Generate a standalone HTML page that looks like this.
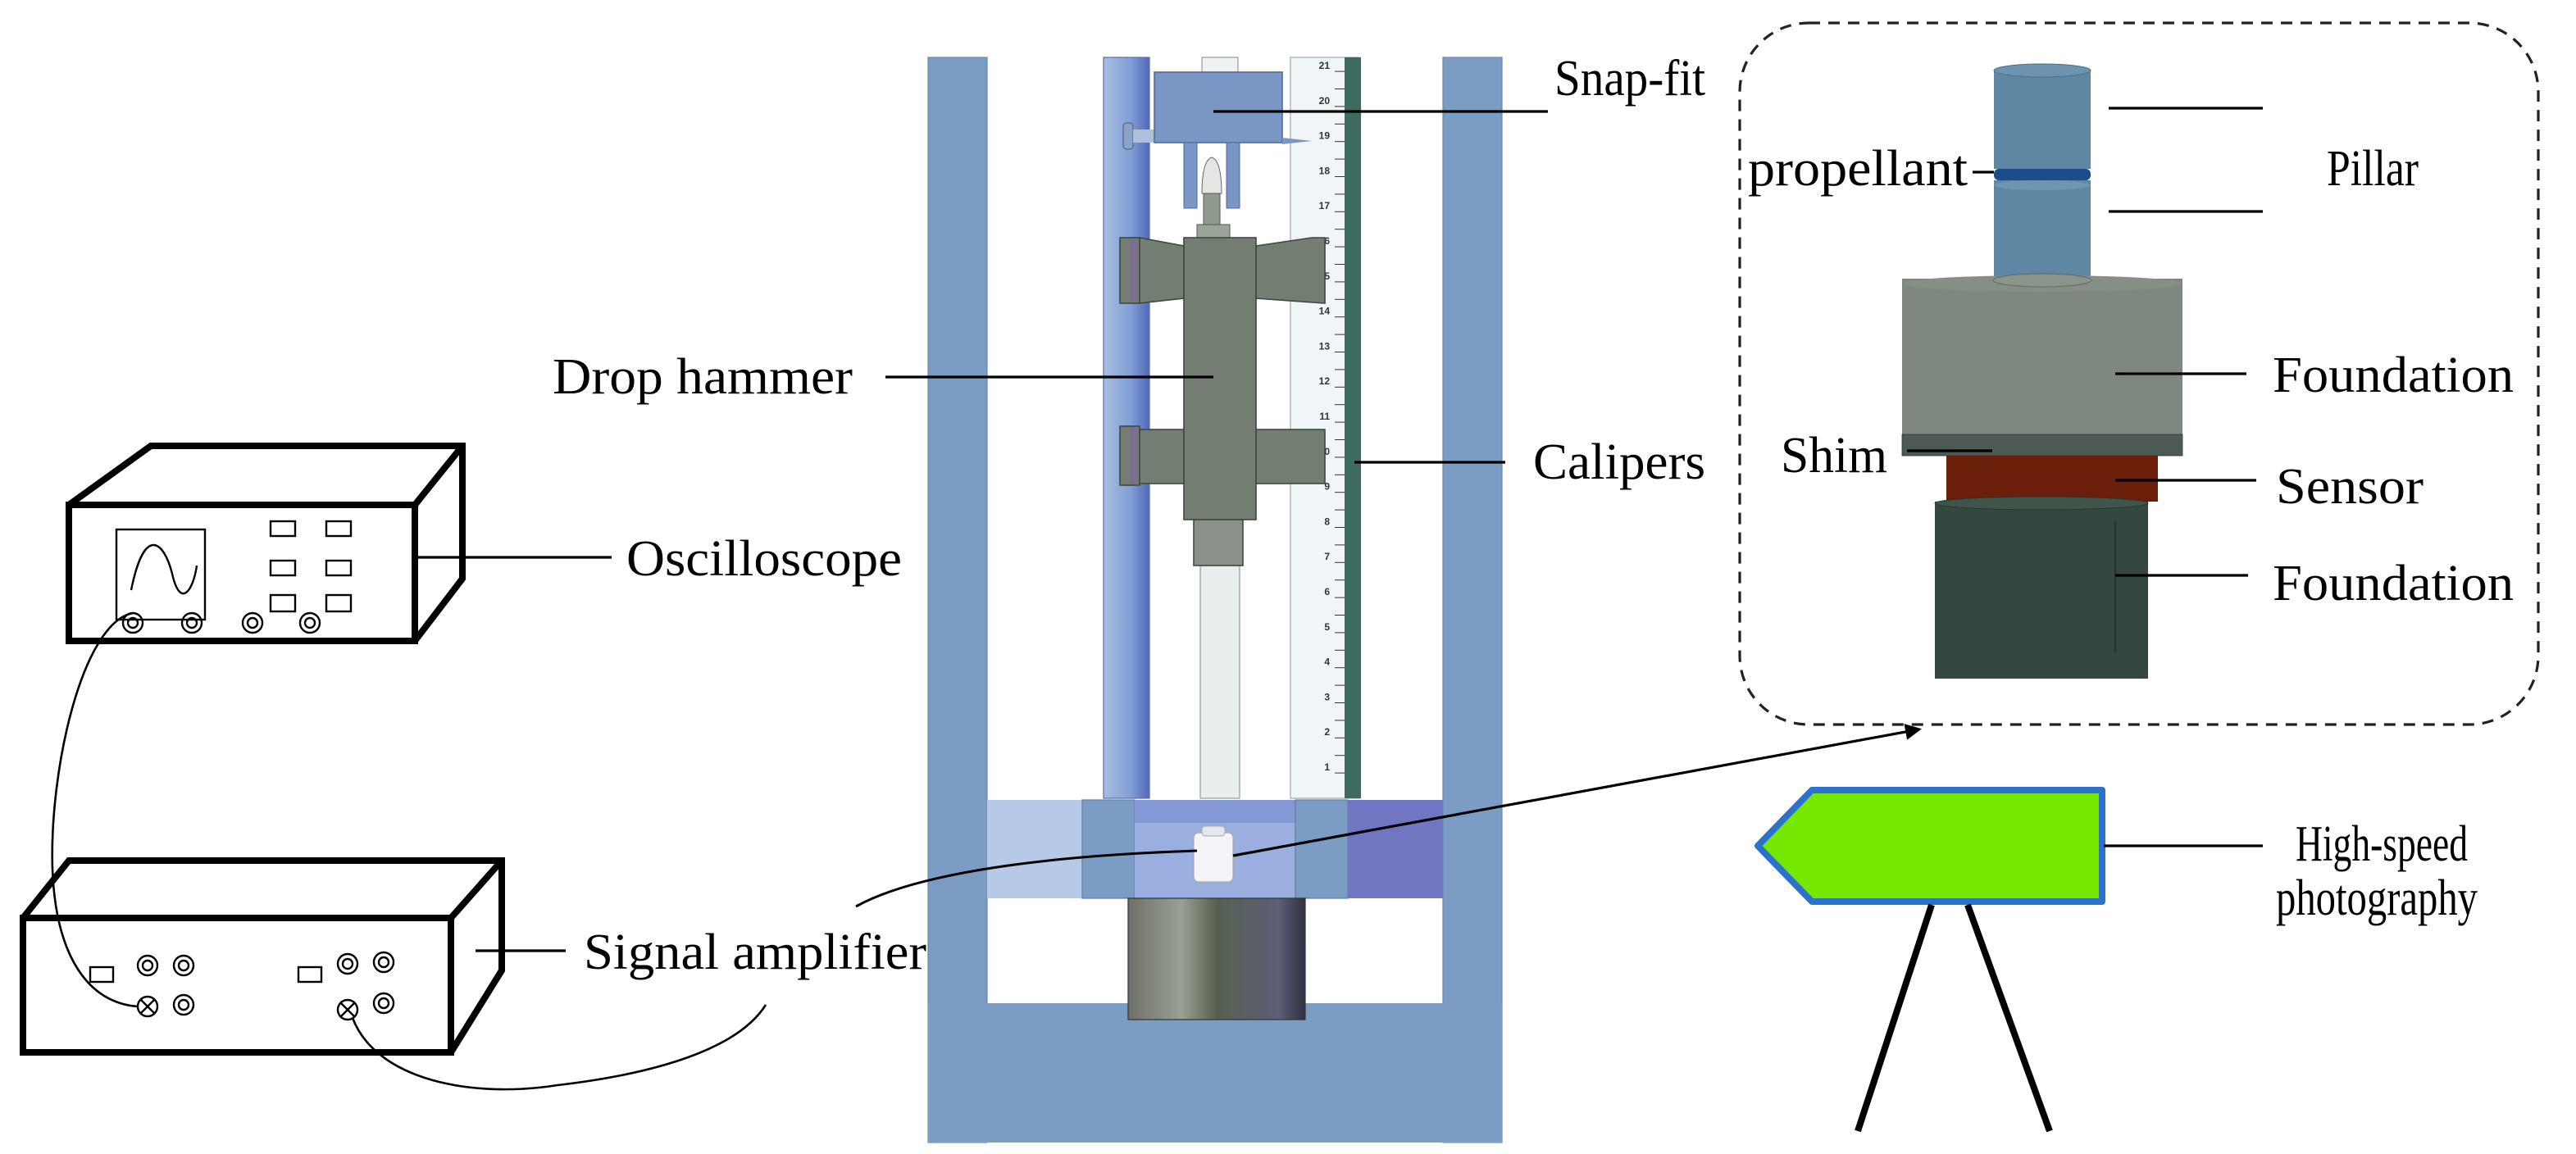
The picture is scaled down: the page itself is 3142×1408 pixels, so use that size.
<!DOCTYPE html>
<html><head><meta charset="utf-8"><style>html,body{margin:0;padding:0;background:#fff}svg{display:block}</style></head>
<body>
<svg width="3142" height="1408" viewBox="0 0 1571 704" xmlns="http://www.w3.org/2000/svg" font-family="Liberation Serif, serif">
<defs>
<linearGradient id="rod" x1="0" x2="1"><stop offset="0" stop-color="#a9bde0"/><stop offset="0.6" stop-color="#7f9fd6"/><stop offset="1" stop-color="#5466b8"/></linearGradient>
<linearGradient id="anv" x1="0" x2="1"><stop offset="0" stop-color="#6d7068"/><stop offset="0.3" stop-color="#9aa094"/><stop offset="0.5" stop-color="#56604f"/><stop offset="0.85" stop-color="#5d5e78"/><stop offset="1" stop-color="#2e3040"/></linearGradient>
<pattern id="tk" x="0" y="0.5" width="20" height="10.7" patternUnits="userSpaceOnUse"><line x1="0" y1="0" x2="20" y2="0" stroke="#333" stroke-width="1"/></pattern>
<marker id="ah" markerWidth="10" markerHeight="10" refX="8" refY="5" orient="auto" markerUnits="userSpaceOnUse"><path d="M0,0 L10,5 L0,10 Z" fill="#000"/></marker>
</defs>

<rect x="566" y="35" width="36" height="662" fill="#7b9cc3" stroke="#6a88ad" stroke-width="0.6"/>
<rect x="880" y="35" width="36" height="662" fill="#7b9cc3" stroke="#6a88ad" stroke-width="0.6"/>
<rect x="566" y="612" width="350" height="85" fill="#7b9cc3"/>

<rect x="673" y="35" width="28" height="452" fill="url(#rod)" stroke="#5a6fa8" stroke-width="0.6"/>
<rect x="787" y="35" width="42" height="452" fill="#f2f5f7" stroke="#9aa" stroke-width="0.6"/>
<rect x="820" y="35" width="10" height="452" fill="#3e6a5f"/>
<rect x="814" y="38" width="6" height="440" fill="url(#tk)"/>
<g font-family="Liberation Sans, sans-serif" font-size="6" font-weight="bold" fill="#333" text-anchor="end">
<text x="811" y="470">1</text><text x="811" y="448.6">2</text><text x="811" y="427.2">3</text><text x="811" y="405.8">4</text><text x="811" y="384.4">5</text><text x="811" y="363">6</text><text x="811" y="341.6">7</text><text x="811" y="320.2">8</text><text x="811" y="298.8">9</text><text x="811" y="277.4">10</text><text x="811" y="256">11</text><text x="811" y="234.6">12</text><text x="811" y="213.2">13</text><text x="811" y="191.8">14</text><text x="811" y="170.4">15</text><text x="811" y="149">16</text><text x="811" y="127.6">17</text><text x="811" y="106.2">18</text><text x="811" y="84.8">19</text><text x="811" y="63.4">20</text><text x="811" y="42">21</text>
</g>

<rect x="733" y="35" width="22" height="10" fill="#eef2f2" stroke="#999" stroke-width="0.6"/>
<rect x="732" y="345" width="24" height="142" fill="#e9eeee" stroke="#999" stroke-width="0.6"/>
<rect x="685" y="75" width="6" height="16" rx="2" fill="#8aa3c8" stroke="#556" stroke-width="0.5"/>
<rect x="691" y="79" width="14" height="8" fill="#aebfd8"/>
<rect x="704" y="44" width="78" height="43" fill="#7996c4" stroke="#4f6b9a" stroke-width="0.8"/>
<path d="M782,84 L800,86 L782,88 Z" fill="#7996c4"/>
<rect x="722" y="87" width="8" height="40" fill="#7996c4" stroke="#4f6b9a" stroke-width="0.5"/>
<rect x="748" y="87" width="8" height="40" fill="#7996c4" stroke="#4f6b9a" stroke-width="0.5"/>
<path d="M733,118 Q733,98 739,96 Q745,98 745,118 Z" fill="#e3e6e2" stroke="#666" stroke-width="0.5"/>
<rect x="734" y="118" width="10" height="20" fill="#8f9a8f" stroke="#555" stroke-width="0.5"/>
<rect x="730" y="137" width="20" height="8" fill="#9aa59a" stroke="#555" stroke-width="0.5"/>
<g fill="#737d72" stroke="#3d4a3d" stroke-width="0.8">
<rect x="683" y="145" width="12" height="40"/>
<path d="M695,145 L722,150 L722,182 L695,185 Z"/>
<path d="M766,150 L800,145 L808,145 L808,185 L766,182 Z"/>
<rect x="683" y="260" width="12" height="36"/>
<rect x="695" y="262" width="27" height="33"/>
<rect x="766" y="262" width="42" height="33"/>
<rect x="722" y="145" width="44" height="172"/>
<rect x="728" y="317" width="30" height="28" fill="#8a9189"/>
</g>
<rect x="689" y="146" width="5" height="38" fill="#7a6f8e"/>
<rect x="689" y="261" width="5" height="34" fill="#7a6f8e"/>

<rect x="602" y="488" width="58" height="60" fill="#b6c9e6"/>
<rect x="660" y="488" width="32" height="60" fill="#7b9cc3" stroke="#5f7ea6" stroke-width="0.6"/>
<rect x="692" y="488" width="98" height="60" fill="#9aaee0"/>
<rect x="692" y="488" width="98" height="14" fill="#8598d6"/>
<rect x="790" y="488" width="32" height="60" fill="#7b9cc3" stroke="#5f7ea6" stroke-width="0.6"/>
<rect x="822" y="488" width="58" height="60" fill="#7076c2"/>
<rect x="728" y="508" width="24" height="30" rx="3" fill="#f4f4f8" stroke="#aaa" stroke-width="0.6"/>
<rect x="733" y="504" width="14" height="6" rx="2" fill="#e6e6ee" stroke="#aaa" stroke-width="0.5"/>
<rect x="688" y="548" width="108" height="74" fill="url(#anv)" stroke="#333" stroke-width="0.6"/>

<rect x="1061" y="14" width="487" height="428" rx="42" fill="none" stroke="#222" stroke-width="1.6" stroke-dasharray="7,5"/>
<rect x="1216" y="43" width="59" height="60" fill="#5f86a3"/>
<ellipse cx="1245.5" cy="43" rx="29.5" ry="4" fill="#6c93b0" stroke="#4d6f88" stroke-width="0.5"/>
<rect x="1216" y="103" width="59" height="7" rx="3" fill="#1d4c8c"/>
<rect x="1216" y="110" width="59" height="60" fill="#5f86a3"/>
<ellipse cx="1245.5" cy="113" rx="29.5" ry="3" fill="#6f95b1"/>
<rect x="1160" y="170" width="171" height="95" fill="#7f887f"/>
<ellipse cx="1245.5" cy="173" rx="85" ry="5" fill="#868f86"/>
<ellipse cx="1245.5" cy="171" rx="30" ry="4" fill="#8b948b" stroke="#666" stroke-width="0.5"/>
<rect x="1160" y="265" width="171" height="13" fill="#4b5a52" stroke="#333" stroke-width="0.4"/>
<rect x="1187" y="278" width="129" height="28" fill="#6b1e0a"/>
<rect x="1180" y="306" width="130" height="108" fill="#354840"/>
<ellipse cx="1245" cy="307" rx="65" ry="4" fill="#3f544a" stroke="#263530" stroke-width="0.5"/>
<line x1="1290" y1="318" x2="1290" y2="398" stroke="#263530" stroke-width="1.2"/>

<path d="M1105,482 L1282,482 L1282,550 L1105,550 L1072,516 Z" fill="#74e800" stroke="#2a72cc" stroke-width="4" stroke-linejoin="round"/>
<line x1="1178" y1="552" x2="1133" y2="690" stroke="#000" stroke-width="4"/>
<line x1="1200" y1="552" x2="1250" y2="690" stroke="#000" stroke-width="4"/>

<g fill="none" stroke="#000" stroke-width="4" stroke-linejoin="miter">
<rect x="42" y="308" width="211" height="83"/>
<path d="M42,308 L92,272 L282,272 L282,353 L253,391 M253,308 L282,272"/>
</g>
<rect x="71" y="323" width="54" height="55" fill="none" stroke="#000" stroke-width="1.2"/>
<path d="M80,360 C88,320 100,330 105,350 C110,372 118,360 120,345" fill="none" stroke="#000" stroke-width="1.2"/>
<g fill="none" stroke="#000" stroke-width="1.2">
<rect x="165" y="318" width="15" height="9"/><rect x="199" y="318" width="15" height="9"/>
<rect x="165" y="342" width="15" height="9"/><rect x="199" y="342" width="15" height="9"/>
<rect x="165" y="363" width="15" height="10"/><rect x="199" y="363" width="15" height="10"/>
<circle cx="81" cy="380" r="6"/><circle cx="81" cy="380" r="3"/>
<circle cx="117" cy="380" r="6"/><circle cx="117" cy="380" r="3"/>
<circle cx="154" cy="380" r="6"/><circle cx="154" cy="380" r="3"/>
<circle cx="189" cy="380" r="6"/><circle cx="189" cy="380" r="3"/>
</g>
<g fill="none" stroke="#000" stroke-width="4">
<rect x="14" y="560" width="261" height="82"/>
<path d="M14,560 L42,525 L306,525 L306,592 L275,642 M275,560 L306,525"/>
</g>
<g fill="none" stroke="#000" stroke-width="1.2">
<rect x="55" y="590" width="14" height="9"/><rect x="182" y="590" width="14" height="9"/>
<circle cx="90" cy="589" r="6"/><circle cx="90" cy="589" r="3"/>
<circle cx="112" cy="589" r="6"/><circle cx="112" cy="589" r="3"/>
<circle cx="112" cy="613" r="6"/><circle cx="112" cy="613" r="3"/>
<circle cx="212" cy="588" r="6"/><circle cx="212" cy="588" r="3"/>
<circle cx="234" cy="587" r="6"/><circle cx="234" cy="587" r="3"/>
<circle cx="234" cy="612" r="6"/><circle cx="234" cy="612" r="3"/>
<circle cx="90" cy="614" r="6"/><path d="M86,610 L94,618 M94,610 L86,618"/>
<circle cx="212" cy="616" r="6"/><path d="M208,612 L216,620 M216,612 L208,620"/>
</g>
<path d="M81,374 C50,380 30,470 32,530 C34,585 55,612 84,614" fill="none" stroke="#000" stroke-width="1.3"/>
<path d="M215,621 C230,660 290,670 340,662 C400,655 450,640 467,613" fill="none" stroke="#000" stroke-width="1.3"/>
<path d="M522,553 C560,532 640,522 730,519" fill="none" stroke="#000" stroke-width="1.5"/>
<line x1="752" y1="522" x2="1170" y2="445" stroke="#000" stroke-width="1.6" marker-end="url(#ah)"/>

<g stroke="#000" stroke-width="1.6">
<line x1="740" y1="68" x2="944" y2="68"/>
<line x1="540" y1="230" x2="740" y2="230"/>
<line x1="826" y1="282" x2="918" y2="282"/>
<line x1="255" y1="340" x2="373" y2="340"/>
<line x1="290" y1="580" x2="345" y2="580"/>
<line x1="1286" y1="66" x2="1380" y2="66"/>
<line x1="1286" y1="129" x2="1380" y2="129"/>
<line x1="1203" y1="105" x2="1216" y2="105"/>
<line x1="1290" y1="228" x2="1370" y2="228"/>
<line x1="1163" y1="275" x2="1215" y2="275"/>
<line x1="1290" y1="293" x2="1376" y2="293"/>
<line x1="1290" y1="351" x2="1371" y2="351"/>
<line x1="1283" y1="516" x2="1380" y2="516"/>
</g>

<g font-size="31" fill="#000">
<text x="948" y="58" textLength="92" lengthAdjust="spacingAndGlyphs">Snap-fit</text>
<text x="337" y="240" textLength="183" lengthAdjust="spacingAndGlyphs">Drop hammer</text>
<text x="935" y="292" textLength="105" lengthAdjust="spacingAndGlyphs">Calipers</text>
<text x="382" y="351" textLength="168" lengthAdjust="spacingAndGlyphs">Oscilloscope</text>
<text x="356" y="591" textLength="209" lengthAdjust="spacingAndGlyphs">Signal amplifier</text>
<text x="1066" y="113" textLength="134" lengthAdjust="spacingAndGlyphs">propellant</text>
<text x="1419" y="113" textLength="56" lengthAdjust="spacingAndGlyphs">Pillar</text>
<text x="1386" y="239" textLength="147" lengthAdjust="spacingAndGlyphs">Foundation</text>
<text x="1086" y="288" textLength="65" lengthAdjust="spacingAndGlyphs">Shim</text>
<text x="1388" y="307" textLength="90" lengthAdjust="spacingAndGlyphs">Sensor</text>
<text x="1386" y="366" textLength="147" lengthAdjust="spacingAndGlyphs">Foundation</text>
<text x="1400" y="525" textLength="105" lengthAdjust="spacingAndGlyphs">High-speed</text>
<text x="1388" y="558" textLength="123" lengthAdjust="spacingAndGlyphs">photography</text>
</g>
</svg>
</body></html>
